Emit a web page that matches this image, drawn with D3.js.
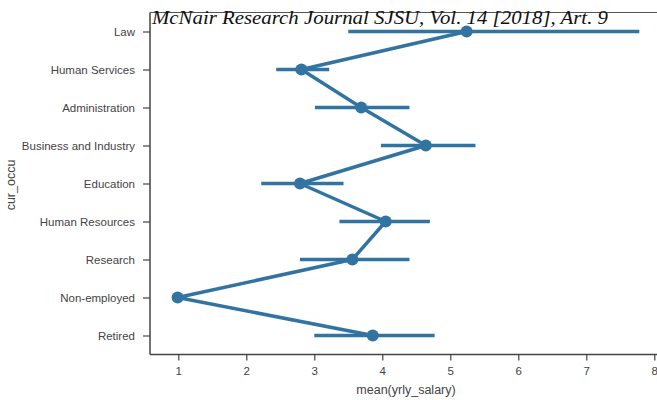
<!DOCTYPE html>
<html><head><meta charset="utf-8">
<script src="https://cdn.jsdelivr.net/npm/d3@7"></script>
<style>body{margin:0;background:#fff}svg{display:block}</style>
</head><body><svg id="c" width="657" height="400"></svg>
<script>
const categories = ["Law","Human Services","Administration","Business and Industry","Education","Human Resources","Research","Non-employed","Retired"];
const means = [5.24, 2.81, 3.69, 4.64, 2.79, 4.05, 3.56, 0.99, 3.86];
const ciLow = [3.50, 2.44, 3.01, 3.98, 2.22, 3.37, 2.79, 0.99, 3.00];
const ciHigh = [7.78, 3.22, 4.40, 5.37, 3.43, 4.70, 4.40, 0.99, 4.77];
const xTicks = [1,2,3,4,5,6,7,8];

const svg = d3.select("#c");
const pLeft = 150, pRight = 657, pTop = 12.5, pBottom = 354.5;
const x = d3.scaleLinear().domain([0.584, 0.584 + (pRight-pLeft)/68]).range([pLeft, pRight]);
const y = d3.scalePoint().domain(categories).range([pTop, pBottom]).padding(0.5);
const color = "#3274a1";
const data = categories.map((c,i)=>({c, m:means[i], lo:ciLow[i], hi:ciHigh[i]}));

// spines
svg.append("line").attr("x1",pLeft).attr("x2",pLeft).attr("y1",pTop).attr("y2",pBottom).attr("stroke","#444").attr("stroke-width",1.5);
svg.append("line").attr("x1",pLeft).attr("x2",pRight).attr("y1",pBottom).attr("y2",pBottom).attr("stroke","#444").attr("stroke-width",1.5);
svg.append("line").attr("x1",pLeft).attr("x2",pRight).attr("y1",pTop).attr("y2",pTop).attr("stroke","#555").attr("stroke-width",1.2);

// axes
const xa = svg.append("g").attr("transform",`translate(0,${pBottom})`)
  .call(d3.axisBottom(x).tickValues(xTicks).tickSize(6).tickPadding(6).tickFormat(d3.format("d")));
xa.select(".domain").remove();
const ya = svg.append("g").attr("transform",`translate(${pLeft},0)`)
  .call(d3.axisLeft(y).tickSize(7).tickPadding(8));
ya.select(".domain").remove();
svg.selectAll(".tick line").attr("stroke","#444").attr("stroke-width",1.2);
svg.selectAll(".tick text").attr("fill","#444").style("font-family","Liberation Sans, Arial, sans-serif").style("font-size","11.5px");

svg.append("text").attr("x",406).attr("y",394).attr("text-anchor","middle")
  .attr("fill","#444").style("font-family","Liberation Sans, Arial, sans-serif").style("font-size","12.5px").text("mean(yrly_salary)");
svg.append("text").attr("transform","translate(15,185) rotate(-90)").attr("text-anchor","middle")
  .attr("fill","#444").style("font-family","Liberation Sans, Arial, sans-serif").style("font-size","12.5px").text("cur_occu");

// CI lines
svg.append("g").selectAll("line").data(data).join("line")
  .attr("x1",d=>x(d.lo)).attr("x2",d=>x(d.hi)).attr("y1",d=>y(d.c)).attr("y2",d=>y(d.c))
  .attr("stroke",color).attr("stroke-width",3.5);
// connecting line
svg.append("path").datum(data)
  .attr("d", d3.line().x(d=>x(d.m)).y(d=>y(d.c)))
  .attr("fill","none").attr("stroke",color).attr("stroke-width",3.5).attr("stroke-linejoin","round");
svg.append("g").selectAll("circle").data(data).join("circle")
  .attr("cx",d=>x(d.m)).attr("cy",d=>y(d.c)).attr("r",6).attr("fill",color);

// header
svg.append("text").attr("x",152).attr("y",24)
  .style("font-family","Liberation Serif, Times New Roman, serif").style("font-style","italic").style("font-size","19.5px")
  .attr("fill","#111").attr("textLength",456).attr("lengthAdjust","spacingAndGlyphs")
  .text("McNair Research Journal SJSU, Vol. 14 [2018], Art. 9");
</script></body></html>
